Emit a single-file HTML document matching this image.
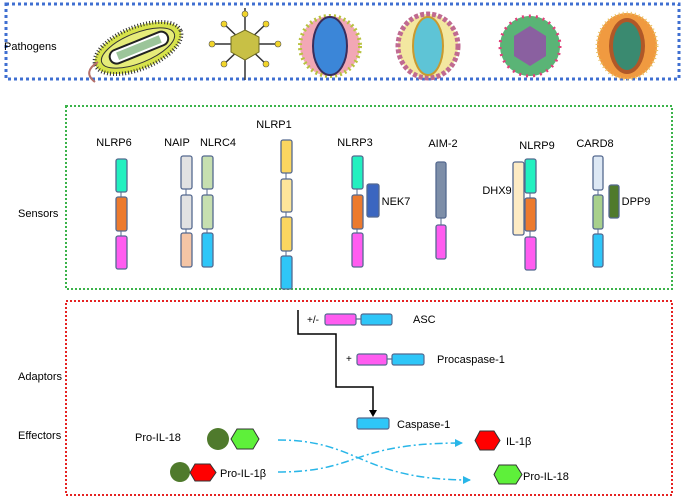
<!DOCTYPE html>
<html><head><meta charset="utf-8"><style>
body{margin:0;background:#fff}
svg{display:block;font-family:"Liberation Sans",sans-serif}
</style></head><body>
<svg width="685" height="498" viewBox="0 0 685 498" xmlns="http://www.w3.org/2000/svg">
<defs>
<marker id="ac" markerWidth="8" markerHeight="8" refX="7" refY="4" orient="auto" markerUnits="userSpaceOnUse"><path d="M0,0 L8,4 L0,8z" fill="#29b6e8"/></marker>
</defs>
<rect x="6" y="4" width="673" height="75" fill="none" stroke="#3f6fd1" stroke-width="3" stroke-dasharray="3,3"/>
<rect x="66" y="106" width="606" height="183" fill="none" stroke="#3bb34a" stroke-width="2" stroke-dasharray="2,2"/>
<rect x="66" y="301" width="606" height="194" fill="none" stroke="#e52222" stroke-width="2" stroke-dasharray="2,2"/>
<g font-size="11" fill="#000">
<text x="4" y="50">Pathogens</text>
<text x="18" y="217">Sensors</text>
<text x="18" y="380">Adaptors</text>
<text x="18" y="439">Effectors</text>
</g>
<g>
 <g transform="rotate(-22 138 48)">
  <ellipse cx="138" cy="48" rx="46" ry="21" fill="#d7e34a" stroke="#333" stroke-width="4" stroke-dasharray="1,2"/>
  <ellipse cx="138" cy="48" rx="39" ry="15" fill="#e6ec7a" stroke="#333"/>
  <rect x="108" y="41" width="62" height="14" rx="7" fill="#fff" stroke="#222" stroke-width="2"/>
  <rect x="116" y="44" width="46" height="8" fill="#9cc59a"/>
 </g>
 <path d="M98,62 Q82,72 95,82" stroke="#b5706a" stroke-width="2" fill="none"/>
 <g stroke="#333" stroke-width="1.5">
  <line x1="245" y1="8" x2="245" y2="80"/><line x1="212" y1="44" x2="278" y2="44"/>
  <line x1="222" y1="22" x2="268" y2="66"/><line x1="268" y1="22" x2="222" y2="66"/>
 </g>
 <g fill="#f2d52a" stroke="#555" stroke-width=".6">
  <circle cx="245" cy="14" r="3"/><circle cx="212" cy="44" r="3"/><circle cx="278" cy="44" r="3"/>
  <circle cx="224" cy="24" r="3"/><circle cx="266" cy="24" r="3"/><circle cx="224" cy="64" r="3"/><circle cx="266" cy="64" r="3"/>
 </g>
 <polygon points="245,30 259,37 259,52 245,60 231,52 231,37" fill="#c8c045" stroke="#6d6a20"/>
 <ellipse cx="330" cy="46" rx="30" ry="30" fill="#f2a7b5" stroke="#b8c240" stroke-width="4" stroke-dasharray="2,3"/>
 <ellipse cx="330" cy="46" rx="17" ry="29" fill="#3b86d8" stroke="#3a2e5c" stroke-width="2"/>
 <ellipse cx="428" cy="46" rx="30" ry="32" fill="#f3e7a0" stroke="#c06a90" stroke-width="5" stroke-dasharray="4,2"/>
 <ellipse cx="428" cy="46" rx="15" ry="29" fill="#5ec4d6" stroke="#c89a30" stroke-width="2"/>
 <circle cx="530" cy="46" r="30" fill="#5ab476" stroke="#e0407a" stroke-width="3" stroke-dasharray="2,5"/>
 <polygon points="530,26 546,36 546,56 530,66 514,56 514,36" fill="#8a60a0"/>
 <ellipse cx="627" cy="46" rx="30" ry="33" fill="#f09a40" stroke="#e8c060" stroke-width="3" stroke-dasharray="1,3"/>
 <ellipse cx="627" cy="46" rx="18" ry="28" fill="#b05828"/>
 <ellipse cx="627" cy="46" rx="14" ry="24" fill="#3a8a70"/>
</g>
<g stroke="#55698f" stroke-width="1">
 <line x1="121" y1="170" x2="121" y2="260"/>
 <line x1="186" y1="170" x2="186" y2="260"/><line x1="207" y1="170" x2="207" y2="260"/>
 <line x1="286" y1="150" x2="286" y2="280"/>
 <line x1="357" y1="170" x2="357" y2="260"/>
 <line x1="441" y1="180" x2="441" y2="240"/>
 <line x1="530" y1="170" x2="530" y2="260"/>
 <line x1="598" y1="170" x2="598" y2="260"/>
 <g stroke-width="1.3">
 <rect x="116" y="159" width="11" height="33" rx="2" fill="#22f0c0"/>
 <rect x="116" y="197" width="11" height="34" rx="2" fill="#ec7a2e"/>
 <rect x="116" y="236" width="11" height="33" rx="2" fill="#ff5cf0"/>
 <rect x="181" y="156" width="11" height="33" rx="2" fill="#e2e2e2"/>
 <rect x="181" y="195" width="11" height="34" rx="2" fill="#e2e2e2"/>
 <rect x="181" y="233" width="11" height="34" rx="2" fill="#f5c5a5"/>
 <rect x="202" y="156" width="11" height="33" rx="2" fill="#c6dfb0"/>
 <rect x="202" y="195" width="11" height="34" rx="2" fill="#c6dfb0"/>
 <rect x="202" y="233" width="11" height="34" rx="2" fill="#2ec6f8"/>
 <rect x="281" y="140" width="11" height="33" rx="2" fill="#fbd660"/>
 <rect x="281" y="179" width="11" height="33" rx="2" fill="#fde59a"/>
 <rect x="281" y="217" width="11" height="34" rx="2" fill="#fbd660"/>
 <rect x="281" y="256" width="11" height="33" rx="2" fill="#2ec6f8"/>
 <rect x="352" y="156" width="11" height="33" rx="2" fill="#22f0c0"/>
 <rect x="352" y="195" width="11" height="34" rx="2" fill="#ec7a2e"/>
 <rect x="352" y="233" width="11" height="34" rx="2" fill="#ff5cf0"/>
 <rect x="367" y="184" width="12" height="33" rx="2" fill="#3b66c0"/>
 <rect x="436" y="162" width="10" height="56" rx="2" fill="#7d8ea8"/>
 <rect x="436" y="225" width="10" height="34" rx="2" fill="#ff5cf0"/>
 <rect x="513" y="162" width="11" height="73" rx="2" fill="#fdebc4"/>
 <rect x="525" y="159" width="11" height="34" rx="2" fill="#22f0c0"/>
 <rect x="525" y="198" width="11" height="33" rx="2" fill="#ec7a2e"/>
 <rect x="525" y="237" width="11" height="33" rx="2" fill="#ff5cf0"/>
 <rect x="593" y="156" width="10" height="34" rx="2" fill="#dde8f4"/>
 <rect x="593" y="195" width="10" height="34" rx="2" fill="#a8d08c"/>
 <rect x="593" y="234" width="10" height="33" rx="2" fill="#2ec6f8"/>
 <rect x="609" y="185" width="10" height="33" rx="2" fill="#4f7a2c"/>
 </g>
</g>
<g font-size="11" fill="#000" text-anchor="middle">
 <text x="114" y="146">NLRP6</text>
 <text x="177" y="146">NAIP</text>
 <text x="218" y="146">NLRC4</text>
 <text x="274" y="128">NLRP1</text>
 <text x="355" y="146">NLRP3</text>
 <text x="443" y="147">AIM-2</text>
 <text x="537" y="149">NLRP9</text>
 <text x="595" y="147">CARD8</text>
 <text x="396" y="205">NEK7</text>
 <text x="497" y="194">DHX9</text>
 <text x="636" y="205">DPP9</text>
</g>
<path d="M298,310 V334 H336 V387 H373 V412" fill="none" stroke="#000" stroke-width="1.5"/>
<path d="M369,410 L377,410 L373,417z" fill="#000"/>
<g stroke="#55698f" stroke-width="1.2">
 <line x1="356" y1="319" x2="361" y2="319"/><line x1="387" y1="359" x2="392" y2="359"/>
 <rect x="325" y="314" width="31" height="11" rx="2" fill="#ff5cf0"/>
 <rect x="361" y="314" width="31" height="11" rx="2" fill="#2ec6f8"/>
 <rect x="357" y="354" width="30" height="11" rx="2" fill="#ff5cf0"/>
 <rect x="392" y="354" width="32" height="11" rx="2" fill="#2ec6f8"/>
 <rect x="357" y="418" width="32" height="11" rx="2" fill="#2ec6f8"/>
</g>
<g font-size="11" fill="#000">
 <text x="307" y="323" font-size="10">+/-</text>
 <text x="413" y="323">ASC</text>
 <text x="346" y="362" font-size="10">+</text>
 <text x="437" y="363">Procaspase-1</text>
 <text x="397" y="428">Caspase-1</text>
 <text x="135" y="441">Pro-IL-18</text>
 <text x="220" y="477">Pro-IL-1β</text>
 <text x="506" y="445">IL-1β</text>
 <text x="523" y="480">Pro-IL-18</text>
</g>
<circle cx="218" cy="439" r="11" fill="#4f7a2c"/>
<polygon points="237,429 253,429 259,439 253,449 237,449 231,439" fill="#5ef03a" stroke="#333"/>
<circle cx="180" cy="472" r="10" fill="#4f7a2c"/>
<polygon points="195,464 210,464 216,472.5 210,481 195,481 190,472.5" fill="#f00" stroke="#333"/>
<polygon points="480,431 494,431 500,440.5 494,450 480,450 475,440.5" fill="#f00" stroke="#333"/>
<polygon points="499,465 516,465 522,474.5 516,484 499,484 494,474.5" fill="#5ef03a" stroke="#333"/>
<g fill="none" stroke="#29b6e8" stroke-width="1.5" stroke-dasharray="8,3,2,3">
 <path d="M278,440 C360,440 360,480 470,480" marker-end="url(#ac)"/>
 <path d="M278,472 C360,472 350,443 462,443" marker-end="url(#ac)"/>
</g>
</svg>
</body></html>
